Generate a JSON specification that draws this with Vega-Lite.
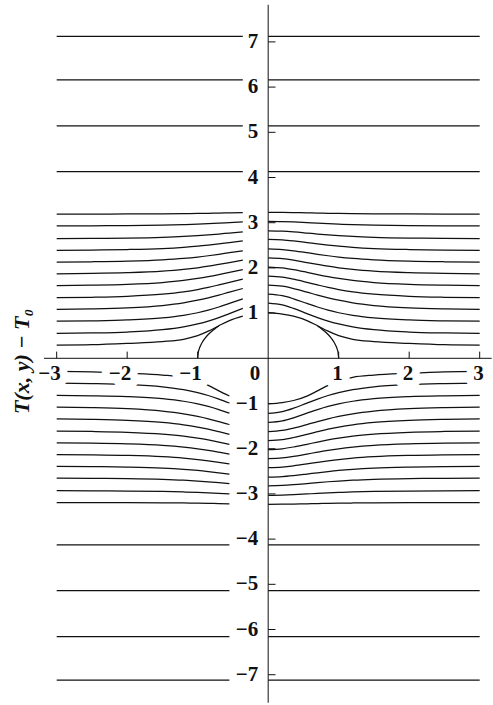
{
"$schema": "https://vega.github.io/schema/vega-lite/v6.json",
"width": 493, "height": 705, "autosize": "none", "padding": 0,
"background": "white",
"config": {"view": {"stroke": null}},
"datasets": {
"curves": [
{"id":"a1","x":0,"y":1.01},{"id":"a1","x":0.2,"y":0.98},{"id":"a1","x":0.36,"y":0.933},{"id":"a1","x":0.55,"y":0.835},{"id":"a1","x":0.7,"y":0.72},{"id":"a1","x":0.85,"y":0.6},{"id":"a1","x":1,"y":0.5},{"id":"a1","x":1.2,"y":0.42},{"id":"a1","x":1.5,"y":0.37},{"id":"a1","x":2,"y":0.33},{"id":"a1","x":2.5,"y":0.3},{"id":"a1","x":3,"y":0.29},
{"id":"a2","x":0,"y":1.22},{"id":"a2","x":0.2,"y":1.18},{"id":"a2","x":0.36,"y":1.104},{"id":"a2","x":0.55,"y":0.99},{"id":"a2","x":0.7,"y":0.902},{"id":"a2","x":0.85,"y":0.823},{"id":"a2","x":1,"y":0.76},{"id":"a2","x":1.2,"y":0.695},{"id":"a2","x":1.5,"y":0.632},{"id":"a2","x":2,"y":0.581},{"id":"a2","x":2.5,"y":0.56},{"id":"a2","x":3,"y":0.55},
{"id":"a3","x":0,"y":1.42},{"id":"a3","x":0.2,"y":1.385},{"id":"a3","x":0.36,"y":1.316},{"id":"a3","x":0.55,"y":1.214},{"id":"a3","x":0.7,"y":1.135},{"id":"a3","x":0.85,"y":1.065},{"id":"a3","x":1,"y":1.008},{"id":"a3","x":1.2,"y":0.95},{"id":"a3","x":1.5,"y":0.894},{"id":"a3","x":2,"y":0.848},{"id":"a3","x":2.5,"y":0.829},{"id":"a3","x":3,"y":0.82},
{"id":"a4","x":0,"y":1.62},{"id":"a4","x":0.2,"y":1.595},{"id":"a4","x":0.36,"y":1.544},{"id":"a4","x":0.55,"y":1.465},{"id":"a4","x":0.7,"y":1.399},{"id":"a4","x":0.85,"y":1.338},{"id":"a4","x":1,"y":1.285},{"id":"a4","x":1.2,"y":1.228},{"id":"a4","x":1.5,"y":1.168},{"id":"a4","x":2,"y":1.115},{"id":"a4","x":2.5,"y":1.091},{"id":"a4","x":3,"y":1.08},
{"id":"a5","x":0,"y":1.82},{"id":"a5","x":0.2,"y":1.798},{"id":"a5","x":0.36,"y":1.752},{"id":"a5","x":0.55,"y":1.682},{"id":"a5","x":0.7,"y":1.624},{"id":"a5","x":0.85,"y":1.569},{"id":"a5","x":1,"y":1.522},{"id":"a5","x":1.2,"y":1.471},{"id":"a5","x":1.5,"y":1.418},{"id":"a5","x":2,"y":1.371},{"id":"a5","x":2.5,"y":1.35},{"id":"a5","x":3,"y":1.34},
{"id":"a6","x":0,"y":2.02},{"id":"a6","x":0.2,"y":2.001},{"id":"a6","x":0.36,"y":1.962},{"id":"a6","x":0.55,"y":1.902},{"id":"a6","x":0.7,"y":1.852},{"id":"a6","x":0.85,"y":1.806},{"id":"a6","x":1,"y":1.766},{"id":"a6","x":1.2,"y":1.722},{"id":"a6","x":1.5,"y":1.677},{"id":"a6","x":2,"y":1.637},{"id":"a6","x":2.5,"y":1.619},{"id":"a6","x":3,"y":1.61},
{"id":"a7","x":0,"y":2.22},{"id":"a7","x":0.2,"y":2.204},{"id":"a7","x":0.36,"y":2.171},{"id":"a7","x":0.55,"y":2.119},{"id":"a7","x":0.7,"y":2.077},{"id":"a7","x":0.85,"y":2.037},{"id":"a7","x":1,"y":2.003},{"id":"a7","x":1.2,"y":1.966},{"id":"a7","x":1.5,"y":1.927},{"id":"a7","x":2,"y":1.893},{"id":"a7","x":2.5,"y":1.877},{"id":"a7","x":3,"y":1.87},
{"id":"a8","x":0,"y":2.42},{"id":"a8","x":0.2,"y":2.406},{"id":"a8","x":0.36,"y":2.379},{"id":"a8","x":0.55,"y":2.337},{"id":"a8","x":0.7,"y":2.301},{"id":"a8","x":0.85,"y":2.269},{"id":"a8","x":1,"y":2.24},{"id":"a8","x":1.2,"y":2.209},{"id":"a8","x":1.5,"y":2.177},{"id":"a8","x":2,"y":2.149},{"id":"a8","x":2.5,"y":2.136},{"id":"a8","x":3,"y":2.13},
{"id":"a9","x":0,"y":2.63},{"id":"a9","x":0.2,"y":2.619},{"id":"a9","x":0.36,"y":2.596},{"id":"a9","x":0.55,"y":2.561},{"id":"a9","x":0.7,"y":2.532},{"id":"a9","x":0.85,"y":2.505},{"id":"a9","x":1,"y":2.481},{"id":"a9","x":1.2,"y":2.456},{"id":"a9","x":1.5,"y":2.429},{"id":"a9","x":2,"y":2.406},{"id":"a9","x":2.5,"y":2.395},{"id":"a9","x":3,"y":2.39},
{"id":"a10","x":0,"y":2.82},{"id":"a10","x":0.2,"y":2.812},{"id":"a10","x":0.36,"y":2.796},{"id":"a10","x":0.55,"y":2.771},{"id":"a10","x":0.7,"y":2.75},{"id":"a10","x":0.85,"y":2.731},{"id":"a10","x":1,"y":2.715},{"id":"a10","x":1.2,"y":2.697},{"id":"a10","x":1.5,"y":2.678},{"id":"a10","x":2,"y":2.661},{"id":"a10","x":2.5,"y":2.654},{"id":"a10","x":3,"y":2.65},
{"id":"a11","x":0,"y":3.03},{"id":"a11","x":0.2,"y":3.025},{"id":"a11","x":0.36,"y":3.016},{"id":"a11","x":0.55,"y":3.001},{"id":"a11","x":0.7,"y":2.989},{"id":"a11","x":0.85,"y":2.978},{"id":"a11","x":1,"y":2.968},{"id":"a11","x":1.2,"y":2.957},{"id":"a11","x":1.5,"y":2.946},{"id":"a11","x":2,"y":2.936},{"id":"a11","x":2.5,"y":2.932},{"id":"a11","x":3,"y":2.93},
{"id":"a12","x":0,"y":3.23},{"id":"a12","x":0.2,"y":3.228},{"id":"a12","x":0.36,"y":3.224},{"id":"a12","x":0.55,"y":3.218},{"id":"a12","x":0.7,"y":3.214},{"id":"a12","x":0.85,"y":3.209},{"id":"a12","x":1,"y":3.205},{"id":"a12","x":1.2,"y":3.201},{"id":"a12","x":1.5,"y":3.197},{"id":"a12","x":2,"y":3.193},{"id":"a12","x":2.5,"y":3.191},{"id":"a12","x":3,"y":3.19},

{"id":"b1","x":-3,"y":0.29},{"id":"b1","x":-2.5,"y":0.3},{"id":"b1","x":-2,"y":0.33},{"id":"b1","x":-1.5,"y":0.37},{"id":"b1","x":-1.2,"y":0.42},{"id":"b1","x":-1,"y":0.5},{"id":"b1","x":-0.85,"y":0.6},{"id":"b1","x":-0.7,"y":0.72},{"id":"b1","x":-0.55,"y":0.835},{"id":"b1","x":-0.36,"y":0.933},
{"id":"b2","x":-3,"y":0.55},{"id":"b2","x":-2.5,"y":0.56},{"id":"b2","x":-2,"y":0.581},{"id":"b2","x":-1.5,"y":0.632},{"id":"b2","x":-1.2,"y":0.695},{"id":"b2","x":-1,"y":0.76},{"id":"b2","x":-0.85,"y":0.823},{"id":"b2","x":-0.7,"y":0.902},{"id":"b2","x":-0.55,"y":0.99},{"id":"b2","x":-0.36,"y":1.104},
{"id":"b3","x":-3,"y":0.82},{"id":"b3","x":-2.5,"y":0.829},{"id":"b3","x":-2,"y":0.848},{"id":"b3","x":-1.5,"y":0.894},{"id":"b3","x":-1.2,"y":0.95},{"id":"b3","x":-1,"y":1.008},{"id":"b3","x":-0.85,"y":1.065},{"id":"b3","x":-0.7,"y":1.135},{"id":"b3","x":-0.55,"y":1.214},{"id":"b3","x":-0.36,"y":1.316},
{"id":"b4","x":-3,"y":1.08},{"id":"b4","x":-2.5,"y":1.091},{"id":"b4","x":-2,"y":1.115},{"id":"b4","x":-1.5,"y":1.168},{"id":"b4","x":-1.2,"y":1.228},{"id":"b4","x":-1,"y":1.285},{"id":"b4","x":-0.85,"y":1.338},{"id":"b4","x":-0.7,"y":1.399},{"id":"b4","x":-0.55,"y":1.465},{"id":"b4","x":-0.36,"y":1.544},
{"id":"b5","x":-3,"y":1.34},{"id":"b5","x":-2.5,"y":1.35},{"id":"b5","x":-2,"y":1.371},{"id":"b5","x":-1.5,"y":1.418},{"id":"b5","x":-1.2,"y":1.471},{"id":"b5","x":-1,"y":1.522},{"id":"b5","x":-0.85,"y":1.569},{"id":"b5","x":-0.7,"y":1.624},{"id":"b5","x":-0.55,"y":1.682},{"id":"b5","x":-0.36,"y":1.752},
{"id":"b6","x":-3,"y":1.61},{"id":"b6","x":-2.5,"y":1.619},{"id":"b6","x":-2,"y":1.637},{"id":"b6","x":-1.5,"y":1.677},{"id":"b6","x":-1.2,"y":1.722},{"id":"b6","x":-1,"y":1.766},{"id":"b6","x":-0.85,"y":1.806},{"id":"b6","x":-0.7,"y":1.852},{"id":"b6","x":-0.55,"y":1.902},{"id":"b6","x":-0.36,"y":1.962},
{"id":"b7","x":-3,"y":1.87},{"id":"b7","x":-2.5,"y":1.877},{"id":"b7","x":-2,"y":1.893},{"id":"b7","x":-1.5,"y":1.927},{"id":"b7","x":-1.2,"y":1.966},{"id":"b7","x":-1,"y":2.003},{"id":"b7","x":-0.85,"y":2.037},{"id":"b7","x":-0.7,"y":2.077},{"id":"b7","x":-0.55,"y":2.119},{"id":"b7","x":-0.36,"y":2.171},
{"id":"b8","x":-3,"y":2.13},{"id":"b8","x":-2.5,"y":2.136},{"id":"b8","x":-2,"y":2.149},{"id":"b8","x":-1.5,"y":2.177},{"id":"b8","x":-1.2,"y":2.209},{"id":"b8","x":-1,"y":2.24},{"id":"b8","x":-0.85,"y":2.269},{"id":"b8","x":-0.7,"y":2.301},{"id":"b8","x":-0.55,"y":2.337},{"id":"b8","x":-0.36,"y":2.379},
{"id":"b9","x":-3,"y":2.39},{"id":"b9","x":-2.5,"y":2.395},{"id":"b9","x":-2,"y":2.406},{"id":"b9","x":-1.5,"y":2.429},{"id":"b9","x":-1.2,"y":2.456},{"id":"b9","x":-1,"y":2.481},{"id":"b9","x":-0.85,"y":2.505},{"id":"b9","x":-0.7,"y":2.532},{"id":"b9","x":-0.55,"y":2.561},{"id":"b9","x":-0.36,"y":2.596},
{"id":"b10","x":-3,"y":2.65},{"id":"b10","x":-2.5,"y":2.654},{"id":"b10","x":-2,"y":2.661},{"id":"b10","x":-1.5,"y":2.678},{"id":"b10","x":-1.2,"y":2.697},{"id":"b10","x":-1,"y":2.715},{"id":"b10","x":-0.85,"y":2.731},{"id":"b10","x":-0.7,"y":2.75},{"id":"b10","x":-0.55,"y":2.771},{"id":"b10","x":-0.36,"y":2.796},
{"id":"b11","x":-3,"y":2.93},{"id":"b11","x":-2.5,"y":2.932},{"id":"b11","x":-2,"y":2.936},{"id":"b11","x":-1.5,"y":2.946},{"id":"b11","x":-1.2,"y":2.957},{"id":"b11","x":-1,"y":2.968},{"id":"b11","x":-0.85,"y":2.978},{"id":"b11","x":-0.7,"y":2.989},{"id":"b11","x":-0.55,"y":3.001},{"id":"b11","x":-0.36,"y":3.016},
{"id":"b12","x":-3,"y":3.19},{"id":"b12","x":-2.5,"y":3.191},{"id":"b12","x":-2,"y":3.193},{"id":"b12","x":-1.5,"y":3.197},{"id":"b12","x":-1.2,"y":3.201},{"id":"b12","x":-1,"y":3.205},{"id":"b12","x":-0.85,"y":3.209},{"id":"b12","x":-0.7,"y":3.214},{"id":"b12","x":-0.55,"y":3.218},{"id":"b12","x":-0.36,"y":3.224},

{"id":"c1","x":0,"y":-1.01},{"id":"c1","x":0.2,"y":-0.98},{"id":"c1","x":0.36,"y":-0.933},{"id":"c1","x":0.55,"y":-0.835},{"id":"c1","x":0.7,"y":-0.72},{"id":"c1","x":0.85,"y":-0.6},{"id":"c1","x":1,"y":-0.5},{"id":"c1","x":1.2,"y":-0.42},{"id":"c1","x":1.5,"y":-0.37},{"id":"c1","x":2,"y":-0.33},{"id":"c1","x":2.5,"y":-0.3},{"id":"c1","x":3,"y":-0.29},
{"id":"c2","x":0,"y":-1.22},{"id":"c2","x":0.2,"y":-1.18},{"id":"c2","x":0.36,"y":-1.104},{"id":"c2","x":0.55,"y":-0.99},{"id":"c2","x":0.7,"y":-0.902},{"id":"c2","x":0.85,"y":-0.823},{"id":"c2","x":1,"y":-0.76},{"id":"c2","x":1.2,"y":-0.695},{"id":"c2","x":1.5,"y":-0.632},{"id":"c2","x":2,"y":-0.581},{"id":"c2","x":2.5,"y":-0.56},{"id":"c2","x":3,"y":-0.55},
{"id":"c3","x":0,"y":-1.42},{"id":"c3","x":0.2,"y":-1.385},{"id":"c3","x":0.36,"y":-1.316},{"id":"c3","x":0.55,"y":-1.214},{"id":"c3","x":0.7,"y":-1.135},{"id":"c3","x":0.85,"y":-1.065},{"id":"c3","x":1,"y":-1.008},{"id":"c3","x":1.2,"y":-0.95},{"id":"c3","x":1.5,"y":-0.894},{"id":"c3","x":2,"y":-0.848},{"id":"c3","x":2.5,"y":-0.829},{"id":"c3","x":3,"y":-0.82},
{"id":"c4","x":0,"y":-1.62},{"id":"c4","x":0.2,"y":-1.595},{"id":"c4","x":0.36,"y":-1.544},{"id":"c4","x":0.55,"y":-1.465},{"id":"c4","x":0.7,"y":-1.399},{"id":"c4","x":0.85,"y":-1.338},{"id":"c4","x":1,"y":-1.285},{"id":"c4","x":1.2,"y":-1.228},{"id":"c4","x":1.5,"y":-1.168},{"id":"c4","x":2,"y":-1.115},{"id":"c4","x":2.5,"y":-1.091},{"id":"c4","x":3,"y":-1.08},
{"id":"c5","x":0,"y":-1.82},{"id":"c5","x":0.2,"y":-1.798},{"id":"c5","x":0.36,"y":-1.752},{"id":"c5","x":0.55,"y":-1.682},{"id":"c5","x":0.7,"y":-1.624},{"id":"c5","x":0.85,"y":-1.569},{"id":"c5","x":1,"y":-1.522},{"id":"c5","x":1.2,"y":-1.471},{"id":"c5","x":1.5,"y":-1.418},{"id":"c5","x":2,"y":-1.371},{"id":"c5","x":2.5,"y":-1.35},{"id":"c5","x":3,"y":-1.34},
{"id":"c6","x":0,"y":-2.02},{"id":"c6","x":0.2,"y":-2.001},{"id":"c6","x":0.36,"y":-1.962},{"id":"c6","x":0.55,"y":-1.902},{"id":"c6","x":0.7,"y":-1.852},{"id":"c6","x":0.85,"y":-1.806},{"id":"c6","x":1,"y":-1.766},{"id":"c6","x":1.2,"y":-1.722},{"id":"c6","x":1.5,"y":-1.677},{"id":"c6","x":2,"y":-1.637},{"id":"c6","x":2.5,"y":-1.619},{"id":"c6","x":3,"y":-1.61},
{"id":"c7","x":0,"y":-2.22},{"id":"c7","x":0.2,"y":-2.204},{"id":"c7","x":0.36,"y":-2.171},{"id":"c7","x":0.55,"y":-2.119},{"id":"c7","x":0.7,"y":-2.077},{"id":"c7","x":0.85,"y":-2.037},{"id":"c7","x":1,"y":-2.003},{"id":"c7","x":1.2,"y":-1.966},{"id":"c7","x":1.5,"y":-1.927},{"id":"c7","x":2,"y":-1.893},{"id":"c7","x":2.5,"y":-1.877},{"id":"c7","x":3,"y":-1.87},
{"id":"c8","x":0,"y":-2.42},{"id":"c8","x":0.2,"y":-2.406},{"id":"c8","x":0.36,"y":-2.379},{"id":"c8","x":0.55,"y":-2.337},{"id":"c8","x":0.7,"y":-2.301},{"id":"c8","x":0.85,"y":-2.269},{"id":"c8","x":1,"y":-2.24},{"id":"c8","x":1.2,"y":-2.209},{"id":"c8","x":1.5,"y":-2.177},{"id":"c8","x":2,"y":-2.149},{"id":"c8","x":2.5,"y":-2.136},{"id":"c8","x":3,"y":-2.13},
{"id":"c9","x":0,"y":-2.63},{"id":"c9","x":0.2,"y":-2.619},{"id":"c9","x":0.36,"y":-2.596},{"id":"c9","x":0.55,"y":-2.561},{"id":"c9","x":0.7,"y":-2.532},{"id":"c9","x":0.85,"y":-2.505},{"id":"c9","x":1,"y":-2.481},{"id":"c9","x":1.2,"y":-2.456},{"id":"c9","x":1.5,"y":-2.429},{"id":"c9","x":2,"y":-2.406},{"id":"c9","x":2.5,"y":-2.395},{"id":"c9","x":3,"y":-2.39},
{"id":"c10","x":0,"y":-2.82},{"id":"c10","x":0.2,"y":-2.812},{"id":"c10","x":0.36,"y":-2.796},{"id":"c10","x":0.55,"y":-2.771},{"id":"c10","x":0.7,"y":-2.75},{"id":"c10","x":0.85,"y":-2.731},{"id":"c10","x":1,"y":-2.715},{"id":"c10","x":1.2,"y":-2.697},{"id":"c10","x":1.5,"y":-2.678},{"id":"c10","x":2,"y":-2.661},{"id":"c10","x":2.5,"y":-2.654},{"id":"c10","x":3,"y":-2.65},
{"id":"c11","x":0,"y":-3.03},{"id":"c11","x":0.2,"y":-3.025},{"id":"c11","x":0.36,"y":-3.016},{"id":"c11","x":0.55,"y":-3.001},{"id":"c11","x":0.7,"y":-2.989},{"id":"c11","x":0.85,"y":-2.978},{"id":"c11","x":1,"y":-2.968},{"id":"c11","x":1.2,"y":-2.957},{"id":"c11","x":1.5,"y":-2.946},{"id":"c11","x":2,"y":-2.936},{"id":"c11","x":2.5,"y":-2.932},{"id":"c11","x":3,"y":-2.93},
{"id":"c12","x":0,"y":-3.23},{"id":"c12","x":0.2,"y":-3.228},{"id":"c12","x":0.36,"y":-3.224},{"id":"c12","x":0.55,"y":-3.218},{"id":"c12","x":0.7,"y":-3.214},{"id":"c12","x":0.85,"y":-3.209},{"id":"c12","x":1,"y":-3.205},{"id":"c12","x":1.2,"y":-3.201},{"id":"c12","x":1.5,"y":-3.197},{"id":"c12","x":2,"y":-3.193},{"id":"c12","x":2.5,"y":-3.191},{"id":"c12","x":3,"y":-3.19},

{"id":"d1","x":-3,"y":-0.29},{"id":"d1","x":-2.5,"y":-0.3},{"id":"d1","x":-2,"y":-0.33},{"id":"d1","x":-1.5,"y":-0.37},{"id":"d1","x":-1.2,"y":-0.42},{"id":"d1","x":-1,"y":-0.5},{"id":"d1","x":-0.85,"y":-0.6},{"id":"d1","x":-0.7,"y":-0.72},{"id":"d1","x":-0.55,"y":-0.835},
{"id":"d2","x":-3,"y":-0.55},{"id":"d2","x":-2.5,"y":-0.56},{"id":"d2","x":-2,"y":-0.581},{"id":"d2","x":-1.5,"y":-0.632},{"id":"d2","x":-1.2,"y":-0.695},{"id":"d2","x":-1,"y":-0.76},{"id":"d2","x":-0.85,"y":-0.823},{"id":"d2","x":-0.7,"y":-0.902},{"id":"d2","x":-0.55,"y":-0.99},
{"id":"d3","x":-3,"y":-0.82},{"id":"d3","x":-2.5,"y":-0.829},{"id":"d3","x":-2,"y":-0.848},{"id":"d3","x":-1.5,"y":-0.894},{"id":"d3","x":-1.2,"y":-0.95},{"id":"d3","x":-1,"y":-1.008},{"id":"d3","x":-0.85,"y":-1.065},{"id":"d3","x":-0.7,"y":-1.135},{"id":"d3","x":-0.55,"y":-1.214},
{"id":"d4","x":-3,"y":-1.08},{"id":"d4","x":-2.5,"y":-1.091},{"id":"d4","x":-2,"y":-1.115},{"id":"d4","x":-1.5,"y":-1.168},{"id":"d4","x":-1.2,"y":-1.228},{"id":"d4","x":-1,"y":-1.285},{"id":"d4","x":-0.85,"y":-1.338},{"id":"d4","x":-0.7,"y":-1.399},{"id":"d4","x":-0.55,"y":-1.465},
{"id":"d5","x":-3,"y":-1.34},{"id":"d5","x":-2.5,"y":-1.35},{"id":"d5","x":-2,"y":-1.371},{"id":"d5","x":-1.5,"y":-1.418},{"id":"d5","x":-1.2,"y":-1.471},{"id":"d5","x":-1,"y":-1.522},{"id":"d5","x":-0.85,"y":-1.569},{"id":"d5","x":-0.7,"y":-1.624},{"id":"d5","x":-0.55,"y":-1.682},
{"id":"d6","x":-3,"y":-1.61},{"id":"d6","x":-2.5,"y":-1.619},{"id":"d6","x":-2,"y":-1.637},{"id":"d6","x":-1.5,"y":-1.677},{"id":"d6","x":-1.2,"y":-1.722},{"id":"d6","x":-1,"y":-1.766},{"id":"d6","x":-0.85,"y":-1.806},{"id":"d6","x":-0.7,"y":-1.852},{"id":"d6","x":-0.55,"y":-1.902},
{"id":"d7","x":-3,"y":-1.87},{"id":"d7","x":-2.5,"y":-1.877},{"id":"d7","x":-2,"y":-1.893},{"id":"d7","x":-1.5,"y":-1.927},{"id":"d7","x":-1.2,"y":-1.966},{"id":"d7","x":-1,"y":-2.003},{"id":"d7","x":-0.85,"y":-2.037},{"id":"d7","x":-0.7,"y":-2.077},{"id":"d7","x":-0.55,"y":-2.119},
{"id":"d8","x":-3,"y":-2.13},{"id":"d8","x":-2.5,"y":-2.136},{"id":"d8","x":-2,"y":-2.149},{"id":"d8","x":-1.5,"y":-2.177},{"id":"d8","x":-1.2,"y":-2.209},{"id":"d8","x":-1,"y":-2.24},{"id":"d8","x":-0.85,"y":-2.269},{"id":"d8","x":-0.7,"y":-2.301},{"id":"d8","x":-0.55,"y":-2.337},
{"id":"d9","x":-3,"y":-2.39},{"id":"d9","x":-2.5,"y":-2.395},{"id":"d9","x":-2,"y":-2.406},{"id":"d9","x":-1.5,"y":-2.429},{"id":"d9","x":-1.2,"y":-2.456},{"id":"d9","x":-1,"y":-2.481},{"id":"d9","x":-0.85,"y":-2.505},{"id":"d9","x":-0.7,"y":-2.532},{"id":"d9","x":-0.55,"y":-2.561},
{"id":"d10","x":-3,"y":-2.65},{"id":"d10","x":-2.5,"y":-2.654},{"id":"d10","x":-2,"y":-2.661},{"id":"d10","x":-1.5,"y":-2.678},{"id":"d10","x":-1.2,"y":-2.697},{"id":"d10","x":-1,"y":-2.715},{"id":"d10","x":-0.85,"y":-2.731},{"id":"d10","x":-0.7,"y":-2.75},{"id":"d10","x":-0.55,"y":-2.771},
{"id":"d11","x":-3,"y":-2.93},{"id":"d11","x":-2.5,"y":-2.932},{"id":"d11","x":-2,"y":-2.936},{"id":"d11","x":-1.5,"y":-2.946},{"id":"d11","x":-1.2,"y":-2.957},{"id":"d11","x":-1,"y":-2.968},{"id":"d11","x":-0.85,"y":-2.978},{"id":"d11","x":-0.7,"y":-2.989},{"id":"d11","x":-0.55,"y":-3.001},
{"id":"d12","x":-3,"y":-3.19},{"id":"d12","x":-2.5,"y":-3.191},{"id":"d12","x":-2,"y":-3.193},{"id":"d12","x":-1.5,"y":-3.197},{"id":"d12","x":-1.2,"y":-3.201},{"id":"d12","x":-1,"y":-3.205},{"id":"d12","x":-0.85,"y":-3.209},{"id":"d12","x":-0.7,"y":-3.214},{"id":"d12","x":-0.55,"y":-3.218},

{"id":"e1","x":0.7,"y":0.714},{"id":"e1","x":0.75,"y":0.661},{"id":"e1","x":0.8,"y":0.6},{"id":"e1","x":0.85,"y":0.527},{"id":"e1","x":0.9,"y":0.436},{"id":"e1","x":0.93,"y":0.368},{"id":"e1","x":0.96,"y":0.28},{"id":"e1","x":0.98,"y":0.199},{"id":"e1","x":0.99,"y":0.141},{"id":"e1","x":1,"y":0},
{"id":"e2","x":-1,"y":0},{"id":"e2","x":-0.99,"y":0.141},{"id":"e2","x":-0.98,"y":0.199},{"id":"e2","x":-0.96,"y":0.28},{"id":"e2","x":-0.93,"y":0.368},{"id":"e2","x":-0.9,"y":0.436},{"id":"e2","x":-0.85,"y":0.527},{"id":"e2","x":-0.8,"y":0.6},{"id":"e2","x":-0.75,"y":0.661},{"id":"e2","x":-0.7,"y":0.714},

{"id":"s1","x":0,"y":4.13},{"id":"s1","x":3,"y":4.13},{"id":"s2","x":-3,"y":4.13},{"id":"s2","x":-0.36,"y":4.13},
{"id":"s3","x":0,"y":5.14},{"id":"s3","x":3,"y":5.14},{"id":"s4","x":-3,"y":5.14},{"id":"s4","x":-0.36,"y":5.14},
{"id":"s5","x":0,"y":6.16},{"id":"s5","x":3,"y":6.16},{"id":"s6","x":-3,"y":6.16},{"id":"s6","x":-0.36,"y":6.16},
{"id":"s7","x":0,"y":7.12},{"id":"s7","x":3,"y":7.12},{"id":"s8","x":-3,"y":7.12},{"id":"s8","x":-0.36,"y":7.12},
{"id":"s9","x":0,"y":-4.13},{"id":"s9","x":3,"y":-4.13},{"id":"s10","x":-3,"y":-4.13},{"id":"s10","x":-0.55,"y":-4.13},
{"id":"s11","x":0,"y":-5.14},{"id":"s11","x":3,"y":-5.14},{"id":"s12","x":-3,"y":-5.14},{"id":"s12","x":-0.55,"y":-5.14},
{"id":"s13","x":0,"y":-6.16},{"id":"s13","x":3,"y":-6.16},{"id":"s14","x":-3,"y":-6.16},{"id":"s14","x":-0.55,"y":-6.16},
{"id":"s15","x":0,"y":-7.12},{"id":"s15","x":3,"y":-7.12},{"id":"s16","x":-3,"y":-7.12},{"id":"s16","x":-0.55,"y":-7.12}
],
"yt": [{"v":7,"t":"7"},{"v":6,"t":"6"},{"v":5,"t":"5"},{"v":4,"t":"4"},{"v":3,"t":"3"},{"v":2,"t":"2"},{"v":1,"t":"1"},{"v":-1,"t":"−1"},{"v":-2,"t":"−2"},{"v":-3,"t":"−3"},{"v":-4,"t":"−4"},{"v":-5,"t":"−5"},{"v":-6,"t":"−6"},{"v":-7,"t":"−7"}],
"xt": [{"v":-3,"t":"−3"},{"v":-2,"t":"−2"},{"v":-1,"t":"−1"},{"v":1,"t":"1"},{"v":2,"t":"2"},{"v":3,"t":"3"}],
"zero": [{"v":0,"t":"0"}],
"ttl": [{"t":"T(x, y) − T₀"}]
},
"layer": [
{"data":{"name":"curves"},
 "mark":{"type":"line","interpolate":"monotone","stroke":"#111","strokeWidth":1.25},
 "encoding":{
  "x":{"field":"x","type":"quantitative","scale":{"domain":[-3.804,3.189],"nice":false,"zero":false},"axis":null},
  "y":{"field":"y","type":"quantitative","scale":{"domain":[-7.67,7.927],"nice":false,"zero":false},"axis":null},
  "detail":{"field":"id","type":"nominal"}}},
{"data":{"name":"xt"},
 "mark":{"type":"text","align":"right","baseline":"middle","dx":4,"dy":16,"font":"Liberation Serif","fontSize":21,"fontWeight":"bold","fill":"white","stroke":"white","strokeWidth":16,"strokeJoin":"round"},
 "encoding":{
  "x":{"field":"v","type":"quantitative","scale":{"domain":[-3.804,3.189],"nice":false,"zero":false},"axis":null},
  "y":{"datum":0,"type":"quantitative","scale":{"domain":[-7.67,7.927],"nice":false,"zero":false},"axis":null},
  "text":{"field":"t"}}},
{"data":{"values":[{}]},
 "mark":{"type":"rule","stroke":"#111","strokeWidth":1},
 "encoding":{
  "x":{"datum":0,"type":"quantitative","scale":{"domain":[-3.804,3.189],"nice":false,"zero":false},"axis":null},
  "y":{"datum":-7.62,"type":"quantitative","scale":{"domain":[-7.67,7.927],"nice":false,"zero":false},"axis":null},
  "y2":{"datum":7.82}}},
{"data":{"values":[{}]},
 "mark":{"type":"rule","stroke":"#111","strokeWidth":1},
 "encoding":{
  "x":{"datum":-3.18,"type":"quantitative","scale":{"domain":[-3.804,3.189],"nice":false,"zero":false},"axis":null},
  "x2":{"datum":3.17},
  "y":{"datum":0,"type":"quantitative","scale":{"domain":[-7.67,7.927],"nice":false,"zero":false},"axis":null}}},
{"data":{"name":"yt"},
 "mark":{"type":"rule","stroke":"#111","strokeWidth":1},
 "encoding":{
  "x":{"datum":0,"type":"quantitative","scale":{"domain":[-3.804,3.189],"nice":false,"zero":false},"axis":null},
  "x2":{"datum":0.104},
  "y":{"field":"v","type":"quantitative","scale":{"domain":[-7.67,7.927],"nice":false,"zero":false},"axis":null}}},
{"data":{"name":"xt"},
 "mark":{"type":"rule","stroke":"#111","strokeWidth":1},
 "encoding":{
  "x":{"field":"v","type":"quantitative","scale":{"domain":[-3.804,3.189],"nice":false,"zero":false},"axis":null},
  "y":{"datum":0,"type":"quantitative","scale":{"domain":[-7.67,7.927],"nice":false,"zero":false},"axis":null},
  "y2":{"datum":0.148}}},
{"data":{"name":"yt"},
 "mark":{"type":"text","align":"right","baseline":"middle","dx":-10,"dy":0,"font":"Liberation Serif","fontSize":21,"fontWeight":"bold","fill":"#111"},
 "encoding":{
  "x":{"datum":0,"type":"quantitative","scale":{"domain":[-3.804,3.189],"nice":false,"zero":false},"axis":null},
  "y":{"field":"v","type":"quantitative","scale":{"domain":[-7.67,7.927],"nice":false,"zero":false},"axis":null},
  "text":{"field":"t"}}},
{"data":{"name":"xt"},
 "mark":{"type":"text","align":"right","baseline":"middle","dx":4,"dy":16,"font":"Liberation Serif","fontSize":21,"fontWeight":"bold","fill":"#111"},
 "encoding":{
  "x":{"field":"v","type":"quantitative","scale":{"domain":[-3.804,3.189],"nice":false,"zero":false},"axis":null},
  "y":{"datum":0,"type":"quantitative","scale":{"domain":[-7.67,7.927],"nice":false,"zero":false},"axis":null},
  "text":{"field":"t"}}},
{"data":{"name":"zero"},
 "mark":{"type":"text","align":"right","baseline":"middle","dx":-8,"dy":16,"font":"Liberation Serif","fontSize":21,"fontWeight":"bold","fill":"#111"},
 "encoding":{
  "x":{"field":"v","type":"quantitative","scale":{"domain":[-3.804,3.189],"nice":false,"zero":false},"axis":null},
  "y":{"datum":0,"type":"quantitative","scale":{"domain":[-7.67,7.927],"nice":false,"zero":false},"axis":null},
  "text":{"field":"t"}}},
{"data":{"name":"ttl"},
 "mark":{"type":"text","align":"center","baseline":"middle","angle":270,"font":"Liberation Serif","fontSize":22,"fontWeight":"bold","fontStyle":"italic","fill":"#111"},
 "encoding":{
  "x":{"datum":-3.49,"type":"quantitative","scale":{"domain":[-3.804,3.189],"nice":false,"zero":false},"axis":null},
  "y":{"datum":-0.07,"type":"quantitative","scale":{"domain":[-7.67,7.927],"nice":false,"zero":false},"axis":null},
  "text":{"field":"t"}}}
]
}
